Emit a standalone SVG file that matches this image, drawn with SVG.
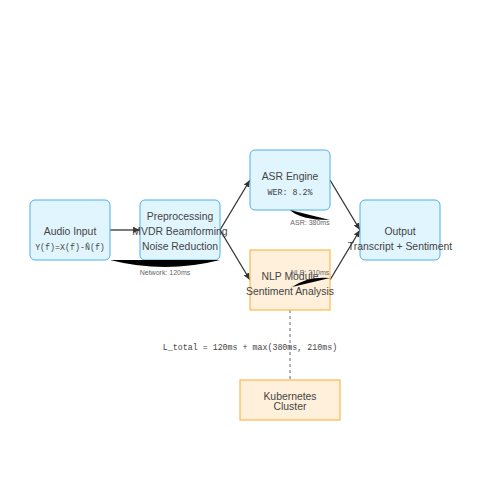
<svg xmlns="http://www.w3.org/2000/svg" width="500" height="500" viewBox="0 0 500 500">
<defs>
<style>
.blue{fill:#e1f5fe;stroke:#4fb0e6;stroke-width:1}
.orange{fill:#fff0dc;stroke:#ffb74d;stroke-width:1.2}
.t{font-family:"Liberation Sans",Arial,sans-serif;font-size:10.4px;fill:#444;text-anchor:middle}
.m{font-family:"Liberation Mono","DejaVu Sans Mono",monospace;font-size:8.3px;fill:#444;text-anchor:middle}
.lbl{font-family:"Liberation Sans",Arial,sans-serif;font-size:7px;fill:#666;text-anchor:middle}
.edge{stroke:#333;stroke-width:1.3;fill:none;marker-end:url(#arr)}
</style>
<marker id="arr" markerWidth="8" markerHeight="8" refX="7" refY="4" orient="auto" markerUnits="userSpaceOnUse">
<path d="M0,1 L7,4 L0,7 z" fill="#333"/>
</marker>
</defs>
<rect width="500" height="500" fill="#fff"/>
<g id="connectors">
<line class="edge" x1="110" y1="230" x2="140" y2="230"/>
<line class="edge" x1="220" y1="230" x2="250" y2="180"/>
<line class="edge" x1="220" y1="230" x2="250" y2="280"/>
<line class="edge" x1="330" y1="180" x2="360" y2="230"/>
<line class="edge" x1="330" y1="280" x2="360" y2="230"/>
<line x1="290" y1="310" x2="290" y2="380" stroke="#999" stroke-width="1.5" stroke-dasharray="3,3"/>
</g>
<g id="audio">
<rect class="blue" x="30" y="200" width="80" height="60" rx="5"/>
<text class="t" x="70" y="235">Audio Input</text>
<text class="m" x="70" y="250">Y(f)=X(f)-N̂(f)</text>
</g>
<g id="preproc">
<rect class="blue" x="140" y="200" width="80" height="60" rx="5"/>
<text class="t" x="180" y="220">Preprocessing</text>
<text class="t" x="180" y="235">MVDR Beamforming</text>
<text class="t" x="180" y="250">Noise Reduction</text>
</g>
<g id="asr">
<rect class="blue" x="250" y="150" width="80" height="60" rx="5"/>
<text class="t" x="290" y="180">ASR Engine</text>
<text class="m" x="290" y="195">WER: 8.2%</text>
</g>
<g id="nlp">
<rect class="orange" x="250" y="250" width="80" height="60"/>
<text class="t" x="290" y="280">NLP Module</text>
<text class="t" x="290" y="295">Sentiment Analysis</text>
</g>
<g id="output">
<rect class="blue" x="360" y="200" width="80" height="60" rx="5"/>
<text class="t" x="400" y="235">Output</text>
<text class="t" x="400" y="250">Transcript + Sentiment</text>
</g>
<g id="k8s">
<rect class="orange" x="240" y="380" width="100" height="40"/>
<text class="t" x="290" y="400">Kubernetes</text>
<text class="t" x="290" y="410">Cluster</text>
</g>
<g id="latency">
<path d="M110,260 Q165,274 220,260" fill="#000"/>
<path d="M290,210 Q300,220 330,220" fill="#000"/>
<path d="M292,287 Q308,276 330,278" fill="#000"/>
<text class="lbl" x="165" y="275">Network: 120ms</text>
<text class="lbl" x="310" y="225">ASR: 380ms</text>
<text class="lbl" x="310" y="275">NLP: 210ms</text>
<text class="m" x="250" y="350">L_total = 120ms + max(380ms, 210ms)</text>
</g>
</svg>
